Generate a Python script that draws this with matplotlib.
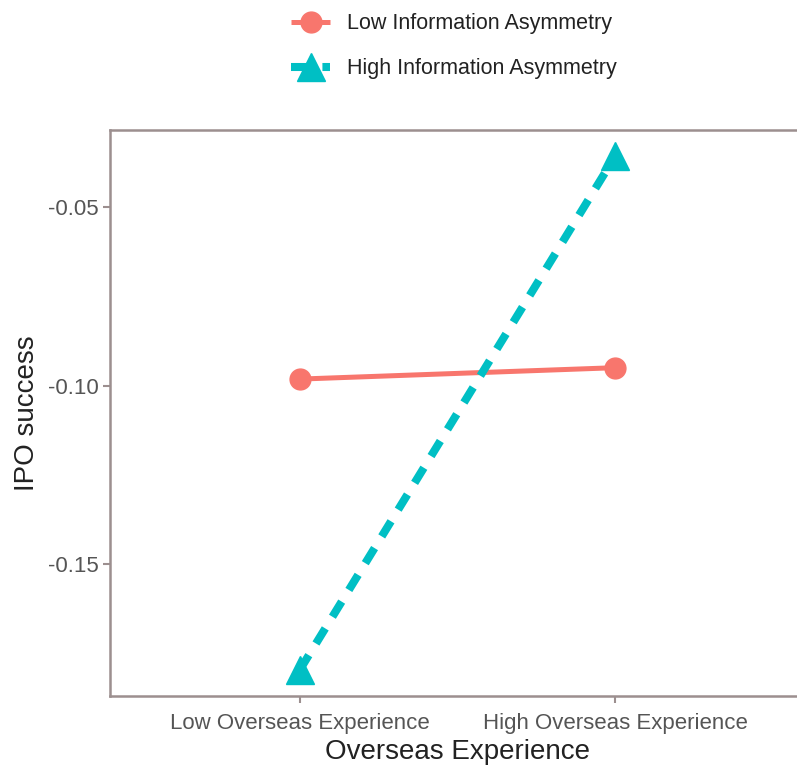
import matplotlib
matplotlib.use("Agg")
import matplotlib.pyplot as plt

categories = ["Low Overseas Experience", "High Overseas Experience"]
low_ia = [-0.0982, -0.0950]
high_ia = [-0.1798, -0.0356]
series_names = ["Low Information Asymmetry", "High Information Asymmetry"]
yticks = [-0.15, -0.10, -0.05]
ytick_labels = ["-0.15", "-0.10", "-0.05"]

plt.rcParams['font.family'] = ['Liberation Sans', 'DejaVu Sans']

W, H = 797, 767
fig = plt.figure(figsize=(W / 100, H / 100), dpi=100)
left, right, top, bottom = 110, 805, 130, 696
ax = fig.add_axes([left / W, (H - bottom) / H, (right - left) / W, (bottom - top) / H])

x = list(range(len(categories)))
red = "#F8766D"
teal = "#00BFC4"

ax.plot(x, low_ia, color=red, lw=3.6, marker="o", markersize=15,
        solid_capstyle="butt", label=series_names[0], zorder=3)
ln, = ax.plot(x, high_ia, color=teal, lw=5.8, marker="^", markersize=20,
              label=series_names[1], zorder=3)
ln.set_dashes((2.2, 1.7))
ln.set_dash_capstyle("butt")

ax.set_xlim(-0.6, 1.6)
allv = low_ia + high_ia
rng = max(allv) - min(allv)
ax.set_ylim(min(allv) - 0.05 * rng, max(allv) + 0.05 * rng)

ax.set_xticks(x)
ax.set_xticklabels(categories)
ax.set_yticks(yticks)
ax.set_yticklabels(ytick_labels)

bc = "#9C8F8F"
for s in ax.spines.values():
    s.set_color(bc)
    s.set_linewidth(1.8)
ax.tick_params(axis="both", colors=bc, length=5, width=1.5, labelsize=16,
               labelcolor="#555555")
ax.tick_params(axis="x", pad=7)
ax.tick_params(axis="y", pad=3)

ax.set_xlabel("Overseas Experience", fontsize=20, color="#222222", labelpad=4)
ax.set_ylabel("IPO success", fontsize=20, color="#222222", labelpad=6)

leg = fig.legend(loc="upper center", bbox_to_anchor=(454 / W, 1 + 6 / H), frameon=False,
                 fontsize=15.5, handlelength=1.8, handletextpad=0.8, labelspacing=1.1,
                 labelcolor="#222222")

fig.savefig("out.png", dpi=100)
